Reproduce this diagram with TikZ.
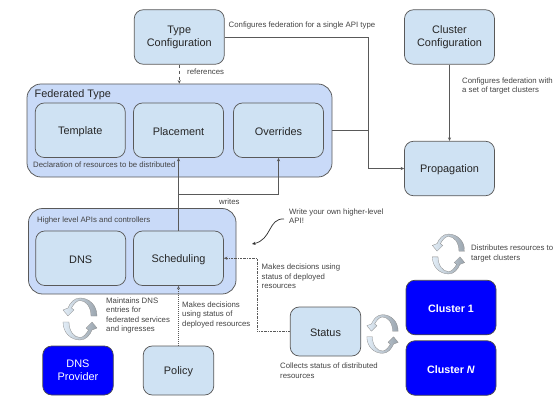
\documentclass[tikz,border=0pt]{standalone}
\usepackage{fontspec}
\setmainfont{Liberation Sans}
\usetikzlibrary{arrows.meta}
\definecolor{boxfill}{HTML}{CFE2F3}
\definecolor{outerfill}{HTML}{C9DAF8}
\definecolor{edgegray}{HTML}{595959}
\definecolor{notegray}{HTML}{434343}
\definecolor{bluefill}{HTML}{0000FF}
\tikzset{
  box/.style={draw=edgegray, line width=.75pt, fill=boxfill, rounded corners=9pt, align=center, font=\fontsize{10.9}{13}\selectfont, text=black!85, inner sep=0pt, minimum width=90pt, minimum height=54.5pt, execute at begin node={\rule{0pt}{10.5pt}}},
  smallbox/.style={box, minimum width=70.5pt, minimum height=49pt},
  outerbox/.style={draw=edgegray, line width=.75pt, fill=outerfill, rounded corners=14pt, inner sep=0pt},
  clusterbox/.style={box, draw=black!70, fill=bluefill, text=white, font=\fontsize{10.7}{13}\selectfont\bfseries},
  note/.style={anchor=west, align=left, inner sep=0pt, text=notegray, font=\fontsize{7.8}{9.5}\selectfont},
  flow/.style={draw=edgegray, line width=.75pt, -{Stealth[length=3.5pt,width=3.2pt]}},
  cyclearrow/.pic={
    \foreach \ang in {0,180} {
      \shade[rotate=\ang, draw=edgegray!70, line width=.3pt, left color=boxfill!60, right color=edgegray!45!boxfill]
        (17,-3) .. controls (17,-14) and (9,-21) .. (0,-21) .. controls (-6,-21) and (-10,-16) .. (-12,-11)
        -- (-17,-9) -- (-12,-3) -- (-6,-9) -- (-8.5,-11) .. controls (-6,-15.5) and (-3,-18.5) .. (0,-18.5)
        .. controls (6,-18.5) and (11,-12) .. (11,-3) -- cycle;
    }
  }
}
\begin{document}
\begin{tikzpicture}[x=1pt,y=-1pt]
    \useasboundingbox (0,0) rectangle (560,420);
    % outer boxes
    \node (fedtype) at (179.5,130.5)[outerbox, minimum width=305pt, minimum height=93pt] {};
    \node (higher) at (132.25,251.25)[outerbox, minimum width=207.5pt, minimum height=85.5pt] {};
    % boxes
    \node (typeconf) at (179.25,37)[box] {Type\\Configuration};
    \node (clusterconf) at (449.5,37)[box] {Cluster\\Configuration};
    \node (propagation) at (449.5,168.5)[box] {Propagation};
    \node (template) at (80.25,130.25)[box] {Template};
    \node (placement) at (178.5,130.25)[box] {Placement};
    \node (overrides) at (278.5,130.25)[box] {Overrides};
    \node (dns) at (80.75,258.25)[box] {DNS};
    \node (scheduling) at (178.5,258.25)[box] {Scheduling};
    \node (policy) at (178.5,370.5)[smallbox] {Policy};
    \node (status) at (325.5,331.5)[smallbox] {Status};
    \node (dnsprovider) at (78,370.5)[smallbox, draw=black!70, fill=bluefill, text=white] {DNS\\Provider};
    \node (cluster1) at (451,307.5)[clusterbox] {Cluster 1};
    \node (clustern) at (451,368)[clusterbox] {Cluster \textit{N}};
    % titles
    \node (fedtitle) at (34.5,95)[note, text=black!85, font=\fontsize{10.9}{13}\selectfont] {Federated Type};
    \node (fednote) at (33,165)[note] {Declaration of resources to be distributed};
    \node (highertitle) at (37,220.5)[note] {Higher level APIs and controllers};
    % notes
    \node (typenote) at (228.5,25)[note] {Configures federation for a single API type};
    \node (refnote) at (187,71.5)[note] {references};
    \node (clusternote) at (462,86)[note] {Configures federation with\\a set of target clusters};
    \node (writesnote) at (219,201.5)[note] {writes};
    \node (apinote) at (289,216)[note] {Write your own higher-level\\API!};
    \node (dnsnote) at (106,315.5)[note] {Maintains DNS\\entries for\\federated services\\and ingresses};
    \node (policynote) at (182,314.5)[note] {Makes decisions\\using status of\\deployed resources};
    \node (statusnote) at (261.5,276.5)[note] {Makes decisions using\\status of deployed\\resources};
    \node (collectnote) at (280,370.5)[note] {Collects status of distributed\\resources};
    \node (distnote) at (471,253.5)[note] {Distributes resources to\\target clusters};
    % connectors
    \coordinate (rail) at (368,130.5);
    \coordinate (writesjoin) at (178.5,194);
    \coordinate (statusbend) at (257,331.5);
    \coordinate (apistart) at (284,219);
    \coordinate (apiend) at (252,244);
    \draw[flow, dashed] (typeconf.south) -- (typeconf.south |- fedtype.north);
    \draw[edgegray, line width=.75pt] (typeconf.east) -| (rail);
    \draw[flow] (fedtype.east) -- (rail) |- (propagation.west);
    \draw[flow] (clusterconf.south) -- (propagation.north);
    \draw[flow] (scheduling.north) -- (placement.south);
    \draw[flow] (writesjoin) -| (overrides.south);
    \draw[flow, dash pattern=on 1pt off 1pt] (policy.north) -- (scheduling.south);
    \draw[flow, dash pattern=on 2pt off 1pt on .5pt off 1pt] (status.west) -- (statusbend) |- (scheduling.east);
    \draw[flow, black!80] (apistart) .. controls (268,218) and (272,240) .. (apiend);
    % cycle arrows
    \pic (dnscycle) at (80,319) {cyclearrow};
    \pic (statuscycle) at (382.5,334)[scale=.92] {cyclearrow};
    \pic (distcycle) at (448.5,254)[scale=.95] {cyclearrow};
\end{tikzpicture}
\end{document}
